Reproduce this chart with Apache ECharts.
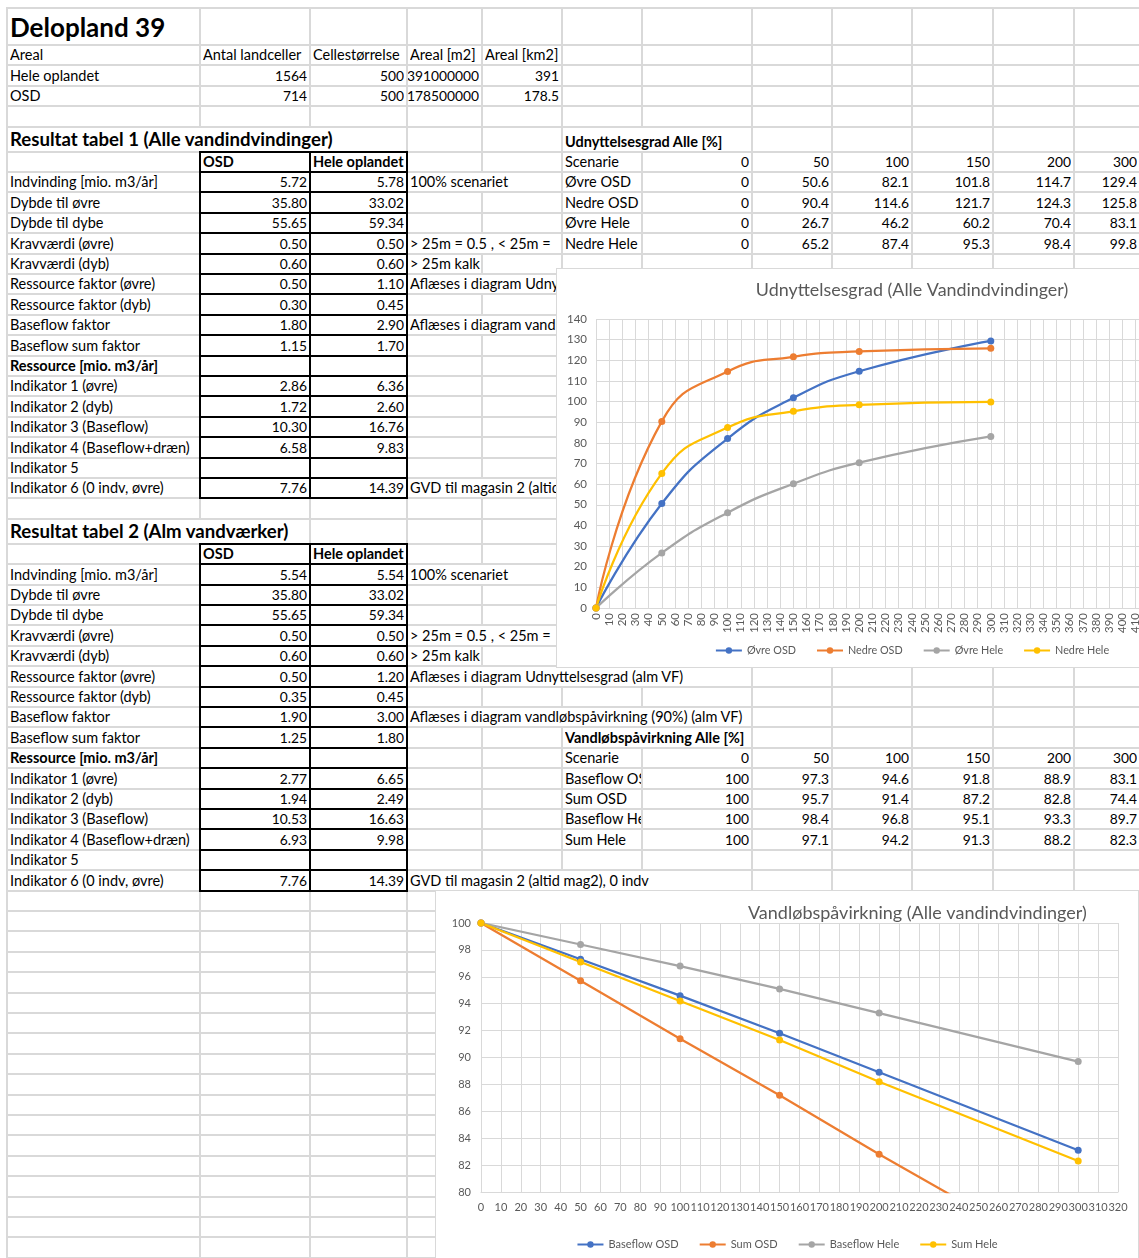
<!DOCTYPE html>
<html>
<head>
<meta charset="utf-8">
<title>Delopland 39</title>
<script src="https://cdn.jsdelivr.net/npm/echarts@6/dist/echarts.min.js"></script>
<style>
  html, body { margin: 0; padding: 0; background: #fff; width: 1139px; height: 1258px; overflow: hidden; }
  #sheet { position: absolute; left: 0; top: 0; width: 1139px; height: 1258px; overflow: hidden; }
  .cell { position: absolute; overflow: hidden; white-space: nowrap; display: flex; align-items: flex-end; color: #000; z-index: 3; }
  .cell span { display: block; white-space: nowrap; }
  .chart { position: absolute; background: #fff; border: 1px solid #d9d9d9; box-sizing: border-box; z-index: 10; }
</style>
</head>
<body>
<div id="sheet"></div>
<div id="chartUdn" class="chart" style="left:556px; top:268px; width:712px; height:400px;"></div>
<div id="chartVand" class="chart" style="left:435px; top:890px; width:704px; height:372px;"></div>
<script>
// ---------- Sheet content ----------
const sheetTitle = 'Delopland 39';

const areaHeader = ['Areal', 'Antal landceller', 'Cellestørrelse', 'Areal [m2]', 'Areal [km2]'];
const areaLabels = ['Hele oplandet', 'OSD'];
const areaCells = [1564, 714];
const areaCellSize = [500, 500];
const areaM2 = [391000000, 178500000];
const areaKm2 = [391, 178.5];

const resultLabels = ['Indvinding [mio. m3/år]', 'Dybde til øvre', 'Dybde til dybe', 'Kravværdi (øvre)',
  'Kravværdi (dyb)', 'Ressource faktor (øvre)', 'Ressource faktor (dyb)', 'Baseflow faktor',
  'Baseflow sum faktor', 'Ressource [mio. m3/år]', 'Indikator 1 (øvre)', 'Indikator 2 (dyb)',
  'Indikator 3 (Baseflow)', 'Indikator 4 (Baseflow+dræn)', 'Indikator 5', 'Indikator 6 (0 indv, øvre)'];
const resultColumns = ['OSD', 'Hele oplandet'];

const table1Title = 'Resultat tabel 1 (Alle vandindvindinger)';
const table1Osd  = ['5.72', '35.80', '55.65', '0.50', '0.60', '0.50', '0.30', '1.80', '1.15', '', '2.86', '1.72', '10.30', '6.58', '', '7.76'];
const table1Hele = ['5.78', '33.02', '59.34', '0.50', '0.60', '1.10', '0.45', '2.90', '1.70', '', '6.36', '2.60', '16.76', '9.83', '', '14.39'];
const table1Notes = ['100% scenariet', '', '', '> 25m = 0.5 , < 25m =', '> 25m kalk', 'Aflæses i diagram Udnyttelsesgrad',
  '', 'Aflæses i diagram vandløbspåvirkning', '', '', '', '', '', '', '', 'GVD til magasin 2 (altid mag2), 0 indv'];

const table2Title = 'Resultat tabel 2 (Alm vandværker)';
const table2Osd  = ['5.54', '35.80', '55.65', '0.50', '0.60', '0.50', '0.35', '1.90', '1.25', '', '2.77', '1.94', '10.53', '6.93', '', '7.76'];
const table2Hele = ['5.54', '33.02', '59.34', '0.50', '0.60', '1.20', '0.45', '3.00', '1.80', '', '6.65', '2.49', '16.63', '9.98', '', '14.39'];
const table2Notes = ['100% scenariet', '', '', '> 25m = 0.5 , < 25m =', '> 25m kalk', 'Aflæses i diagram Udnyttelsesgrad (alm VF)',
  '', 'Aflæses i diagram vandløbspåvirkning (90%) (alm VF)', '', '', '', '', '', '', '', 'GVD til magasin 2 (altid mag2), 0 indv'];

// ---------- Scenario series ----------
const scenarioLabel = 'Scenarie';
const scenarios = [0, 50, 100, 150, 200, 300];

const udnTitle = 'Udnyttelsesgrad Alle [%]';
const udnNames = ['Øvre OSD', 'Nedre OSD', 'Øvre Hele', 'Nedre Hele'];
const ovreOSD   = [0, 50.6, 82.1, 101.8, 114.7, 129.4];
const nedreOSD  = [0, 90.4, 114.6, 121.7, 124.3, 125.8];
const ovreHele  = [0, 26.7, 46.2, 60.2, 70.4, 83.1];
const nedreHele = [0, 65.2, 87.4, 95.3, 98.4, 99.8];

const vandTitle = 'Vandløbspåvirkning Alle [%]';
const vandNames = ['Baseflow OSD', 'Sum OSD', 'Baseflow Hele', 'Sum Hele'];
const baseflowOSD  = [100, 97.3, 94.6, 91.8, 88.9, 83.1];
const sumOSD       = [100, 95.7, 91.4, 87.2, 82.8, 74.4];
const baseflowHele = [100, 98.4, 96.8, 95.1, 93.3, 89.7];
const sumHele      = [100, 97.1, 94.2, 91.3, 88.2, 82.3];

const udnChartTitle = 'Udnyttelsesgrad (Alle Vandindvindinger)';
const vandChartTitle = 'Vandløbspåvirkning (Alle vandindvindinger)';

// ---------- Sheet geometry ----------
const FONT = 'Lato, "Open Sans", sans-serif';
const BASE = 14.5;
const NUM = 13.8;
const GRID = '#d9d9d9';
const colEdges = [7, 200, 310, 407, 482, 562, 642, 752, 832, 912, 993, 1074, 1140, 1222];
const rowH = [37, 20.4, 20.4, 20.4, 20.4, 25];
for (let i = 0; i < 17; i++) rowH.push(20.4);
rowH.push(20.4, 25);
for (let i = 0; i < 17; i++) rowH.push(20.4);
const rowTop = [];
(function () {
  let y = 8;
  for (let i = 0; ; i++) {
    if (i >= rowH.length) rowH.push(20.4);
    rowTop.push(y);
    if (y > 1262) break;
    y += rowH[i];
  }
})();
const nRows = rowTop.length - 1;
const nCols = colEdges.length - 1;

const cells = {};
function put(r, c, text, opts) {
  if (text === '' || text === null || text === undefined) return;
  cells[r + ',' + c] = Object.assign({ text: String(text), align: 'left', bold: false, size: BASE }, opts || {});
}
const R = { align: 'right', size: NUM };

put(0, 0, sheetTitle, { bold: true, size: 26 });
areaHeader.forEach((t, j) => put(1, j, t));
areaLabels.forEach((t, i) => {
  put(2 + i, 0, t);
  put(2 + i, 1, areaCells[i], R);
  put(2 + i, 2, areaCellSize[i], R);
  put(2 + i, 3, areaM2[i], R);
  put(2 + i, 4, areaKm2[i], R);
});

function resultTable(r0, title, osd, hele, notes) {
  put(r0, 0, title, { bold: true, size: 18.6 });
  put(r0 + 1, 1, resultColumns[0], { bold: true });
  put(r0 + 1, 2, resultColumns[1], { bold: true });
  resultLabels.forEach((t, i) => {
    const r = r0 + 2 + i;
    put(r, 0, t, { bold: i === 9 });
    put(r, 1, osd[i], R);
    put(r, 2, hele[i], R);
    put(r, 3, notes[i]);
  });
}
resultTable(5, table1Title, table1Osd, table1Hele, table1Notes);
resultTable(24, table2Title, table2Osd, table2Hele, table2Notes);

function scenarioTable(r0, title, names, rows) {
  put(r0, 5, title, { bold: true });
  put(r0 + 1, 5, scenarioLabel);
  scenarios.forEach((s, j) => put(r0 + 1, 6 + j, s, R));
  names.forEach((n, k) => {
    put(r0 + 2 + k, 5, n);
    rows[k].forEach((v, j) => put(r0 + 2 + k, 6 + j, v, R));
  });
}
scenarioTable(5, udnTitle, udnNames, [ovreOSD, nedreOSD, ovreHele, nedreHele]);
scenarioTable(34, vandTitle, vandNames, [baseflowOSD, sumOSD, baseflowHele, sumHele]);

// ---------- Sheet rendering ----------
const sheet = document.getElementById('sheet');
const measureCtx = document.createElement('canvas').getContext('2d');
function fontOf(c) { return (c.bold ? 'bold ' : '') + c.size + 'px ' + FONT; }
function textWidth(c) { measureCtx.font = fontOf(c); return measureCtx.measureText(c.text).width; }
function box(x, y, w, h, color, z) {
  const d = document.createElement('div');
  d.style.cssText = `position:absolute;left:${x}px;top:${y}px;width:${w}px;height:${h}px;background:${color};z-index:${z}`;
  sheet.appendChild(d);
}
const px = v => Math.round(v);

// vertical gridlines hidden behind overflowing text
const hidden = {};
for (let r = 0; r < nRows; r++) {
  for (let c = 0; c < nCols; c++) {
    const cell = cells[r + ',' + c];
    if (!cell) continue;
    const x0 = colEdges[c];
    let clipCol = nCols;
    for (let k = c + 1; k < nCols; k++) { if (cells[r + ',' + k]) { clipCol = k; break; } }
    const clipEnd = colEdges[clipCol];
    cell.clipEnd = clipEnd;
    if (cell.align === 'left') {
      const end = Math.min(x0 + 3 + textWidth(cell), clipEnd);
      for (let k = c + 1; k < clipCol; k++) if (colEdges[k] < end) hidden[r + ',' + k] = true;
    }
  }
}

// gridlines
for (let r = 0; r <= nRows; r++) box(colEdges[0] - 1, px(rowTop[r]) - 1, 1139, 2, GRID, 1);
for (let r = 0; r < nRows; r++) {
  const y0 = px(rowTop[r]), y1 = px(rowTop[r + 1]);
  for (let k = 0; k < colEdges.length; k++) {
    if (hidden[r + ',' + k]) continue;
    box(colEdges[k] - 1, y0, 2, y1 - y0, GRID, 1);
  }
}

// framed result blocks (columns B and C)
function frame(rStart, rEnd) {
  const xL = colEdges[1], xR = colEdges[3];
  for (let r = rStart; r <= rEnd + 1; r++) box(xL - 1, px(rowTop[r]) - 1, xR - xL + 2, 2, '#000', 2);
  [1, 2, 3].forEach(k => box(colEdges[k] - 1, px(rowTop[rStart]) - 1, 2, px(rowTop[rEnd + 1]) - px(rowTop[rStart]) + 2, '#000', 2));
}
frame(6, 22);
frame(25, 41);

// cell text
Object.keys(cells).forEach(key => {
  const [r, c] = key.split(',').map(Number);
  const cell = cells[key];
  const x0 = colEdges[c], x1 = colEdges[c + 1];
  const y0 = rowTop[r], h = rowTop[r + 1] - rowTop[r];
  const d = document.createElement('div');
  d.className = 'cell';
  const s = document.createElement('span');
  s.textContent = cell.text;
  d.appendChild(s);
  d.style.font = fontOf(cell);
  d.style.lineHeight = Math.round(Math.max(cell.size, BASE) * 1.25) + 'px';
  d.style.top = y0 + 'px';
  d.style.height = (h - 1) + 'px';
  if (cell.align === 'right') {
    d.style.left = (x0 + 1) + 'px';
    d.style.width = (x1 - x0 - 4) + 'px';
    d.style.justifyContent = 'flex-end';
  } else {
    d.style.left = (x0 + 3) + 'px';
    d.style.width = (cell.clipEnd - x0 - 4) + 'px';
  }
  sheet.appendChild(d);
});

// ---------- Charts ----------
const COLORS = ['#4472C4', '#ED7D31', '#A5A5A5', '#FFC000'];
const TXT = '#595959';

function seriesFrom(names, rows, smooth) {
  return names.map((n, k) => ({
    name: n,
    type: 'line',
    smooth: smooth,
    data: scenarios.map((s, j) => [s, rows[k][j]]),
    symbol: 'circle',
    symbolSize: 7,
    color: COLORS[k],
    lineStyle: { width: 2.25, color: COLORS[k] },
    itemStyle: { color: COLORS[k] },
    emphasis: { disabled: true },
    clip: true
  }));
}

const udnChart = echarts.init(document.getElementById('chartUdn'), null, { renderer: 'canvas' });
udnChart.setOption({
  animation: false,
  title: {
    text: udnChartTitle, left: 'center', top: 12, padding: 0,
    textStyle: { fontFamily: FONT, fontSize: 17.9, fontWeight: 'normal', color: TXT }
  },
  grid: { left: 39, top: 50, width: 658, height: 289, outerBoundsMode: 'none' },
  xAxis: {
    type: 'value', min: 0, max: 500, interval: 10,
    axisLine: { show: true, lineStyle: { color: GRID, width: 1 } },
    axisTick: { show: false },
    axisLabel: { rotate: 90, margin: 5, fontFamily: FONT, fontSize: 11.5, color: TXT },
    splitLine: { show: true, lineStyle: { color: GRID, width: 1 } }
  },
  yAxis: {
    type: 'value', min: 0, max: 140, interval: 10,
    axisLine: { show: false }, axisTick: { show: false },
    axisLabel: { margin: 9, fontFamily: FONT, fontSize: 11.5, color: TXT },
    splitLine: { show: true, lineStyle: { color: GRID, width: 1 } }
  },
  legend: {
    left: 'center', top: 371, itemWidth: 26, itemHeight: 8, itemGap: 20,
    textStyle: { fontFamily: FONT, fontSize: 10.8, color: TXT }
  },
  series: seriesFrom(udnNames, [ovreOSD, nedreOSD, ovreHele, nedreHele], true)
});

const vandChart = echarts.init(document.getElementById('chartVand'), null, { renderer: 'canvas' });
vandChart.setOption({
  animation: false,
  title: {
    text: vandChartTitle, left: 312, top: 13, padding: 0,
    textStyle: { fontFamily: FONT, fontSize: 18, fontWeight: 'normal', color: TXT }
  },
  grid: { left: 45, top: 32, width: 637, height: 269, outerBoundsMode: 'none' },
  xAxis: {
    type: 'value', min: 0, max: 320, interval: 10,
    axisLine: { show: true, lineStyle: { color: GRID, width: 1 } },
    axisTick: { show: false },
    axisLabel: { margin: 10, fontFamily: FONT, fontSize: 11, color: TXT },
    splitLine: { show: true, lineStyle: { color: GRID, width: 1 } }
  },
  yAxis: {
    type: 'value', min: 80, max: 100, interval: 2,
    axisLine: { show: false }, axisTick: { show: false },
    axisLabel: { margin: 10, fontFamily: FONT, fontSize: 11, color: TXT },
    splitLine: { show: true, lineStyle: { color: GRID, width: 1 } }
  },
  legend: {
    left: 'center', top: 343, itemWidth: 26, itemHeight: 8, itemGap: 20,
    textStyle: { fontFamily: FONT, fontSize: 11, color: TXT }
  },
  series: seriesFrom(vandNames, [baseflowOSD, sumOSD, baseflowHele, sumHele], false)
});
</script>
</body>
</html>
